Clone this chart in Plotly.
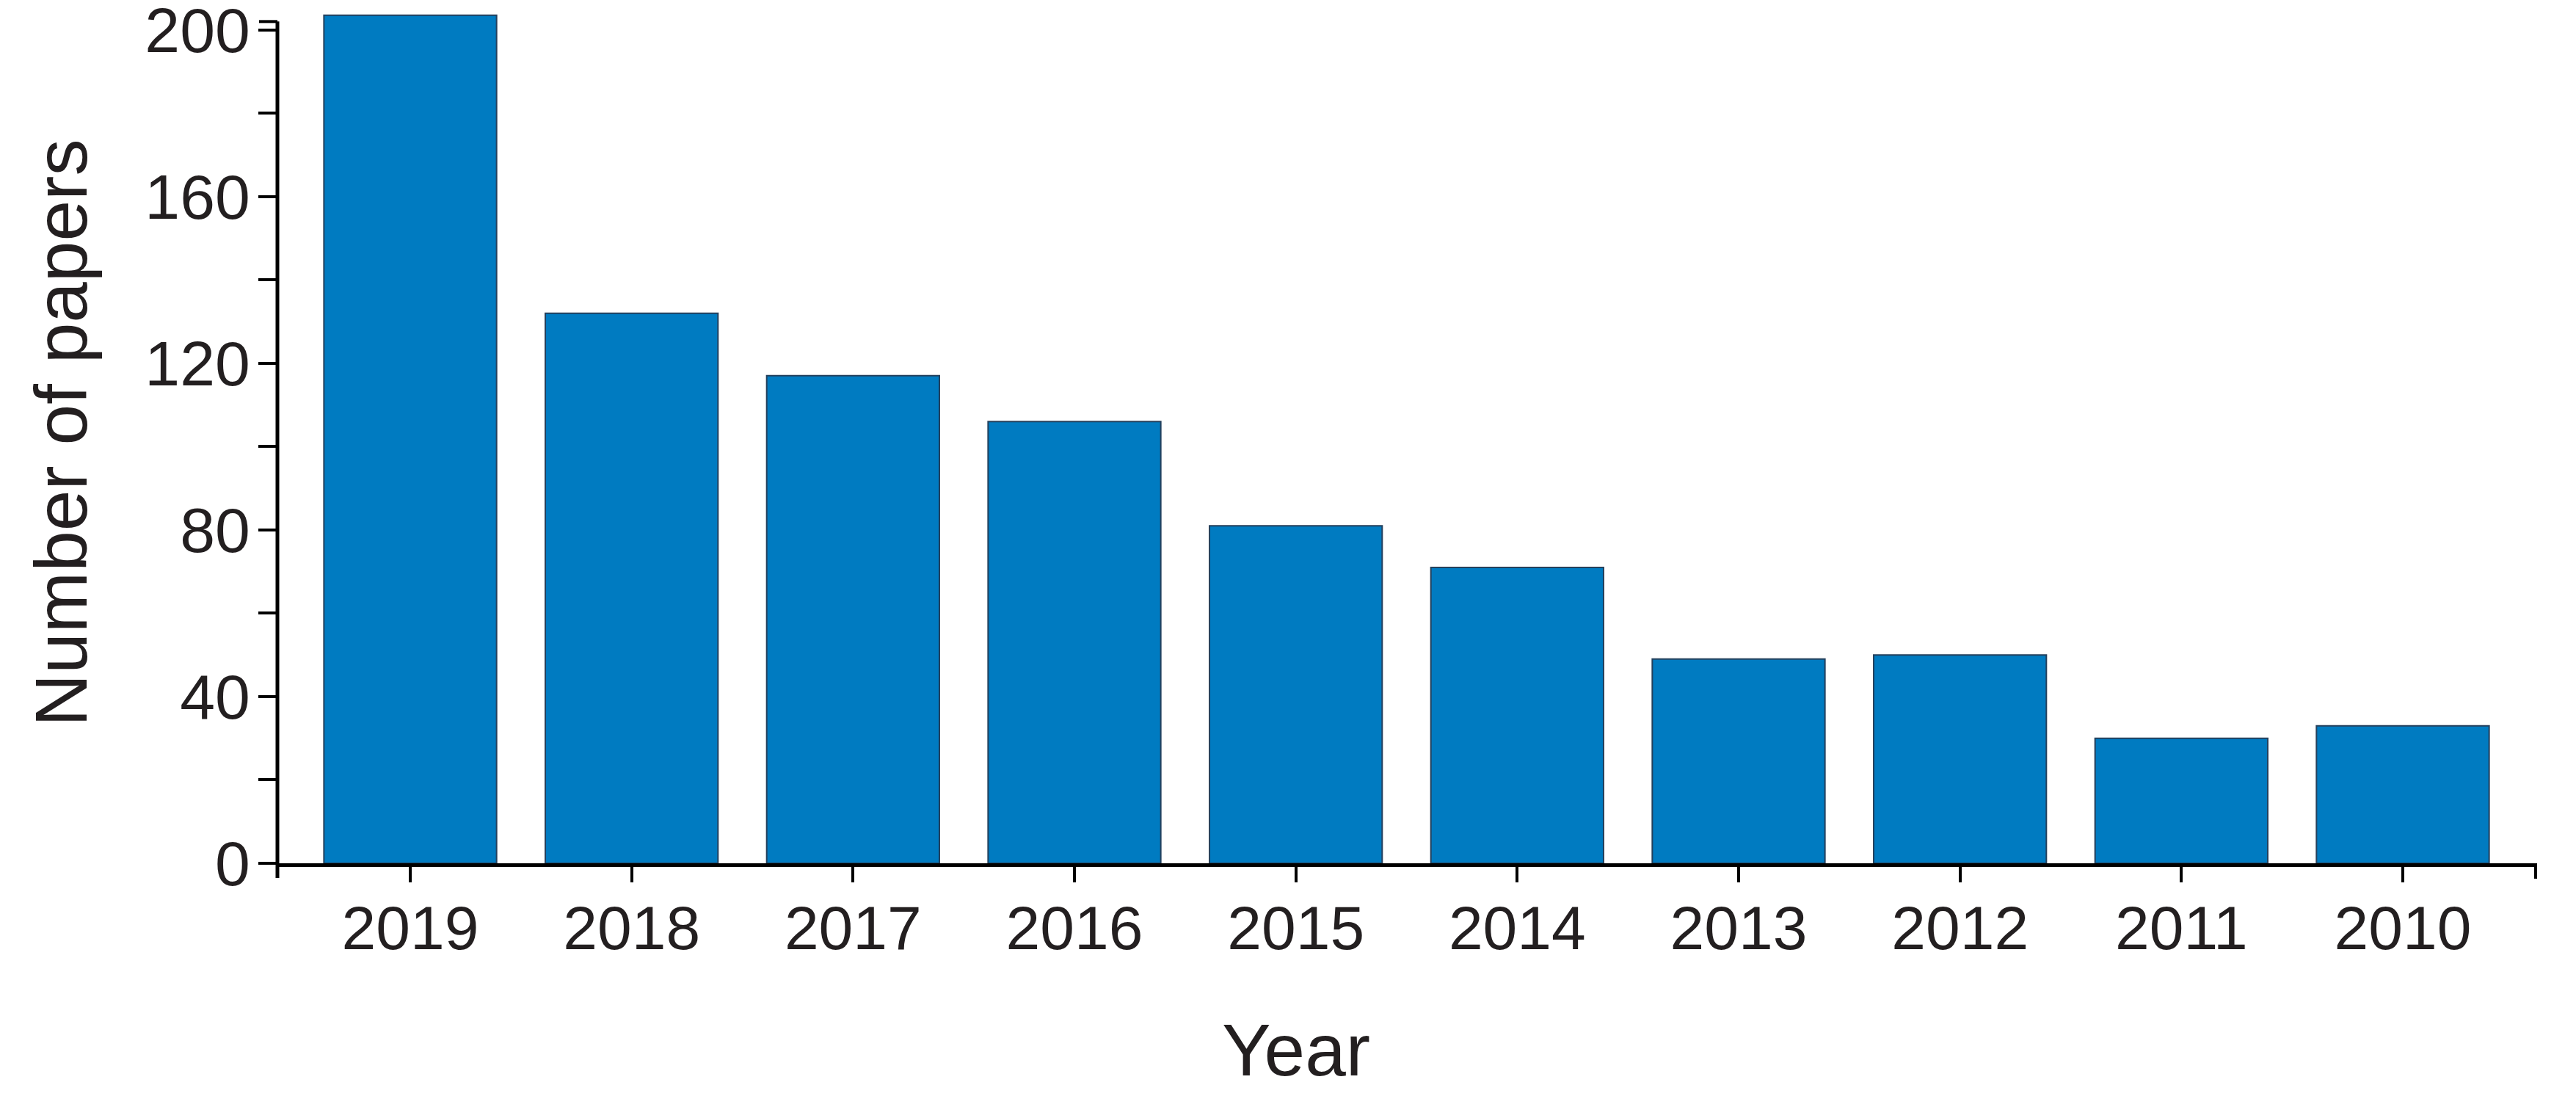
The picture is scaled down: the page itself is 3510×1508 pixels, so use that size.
import plotly.graph_objects as go

# ---- data ----
years = ["2019", "2018", "2017", "2016", "2015", "2014", "2013", "2012", "2011", "2010"]
papers = [203.5, 132, 117, 106, 81, 71, 49, 50, 30, 33]
y_tick_vals = [0, 40, 80, 120, 160, 200]
y_tick_text = ["0", "40", "80", "120", "160", "200"]
x_title = "Year"
y_title = "Number of papers"

# ---- layout constants (page pixels of the reference) ----
PAGE_W, PAGE_H = 3510, 1508
BODY = 8                      # default HTML body margin
W, H = PAGE_W - 2 * BODY, PAGE_H - 2 * BODY
X_LEFT, X_RIGHT = 378, 3455   # plot area on page
Y_TOP, Y_BOTTOM = 18, 1176
ML = X_LEFT - BODY
MT = Y_TOP - BODY
MR = (PAGE_W - BODY) - X_RIGHT
MB = (PAGE_H - BODY) - Y_BOTTOM
Y_MAX = 204
Y_AXIS_END = 202
X_RANGE = [-0.6, 9.6]
PLOT_W = X_RIGHT - X_LEFT
PLOT_H = Y_BOTTOM - Y_TOP
FONT = "Liberation Sans, Arial, Helvetica, sans-serif"
TXT = "#231F20"

fig = go.Figure(
    go.Bar(
        x=years,
        y=papers,
        width=0.78,
        marker=dict(color="#007BC1", line=dict(color="#24405c", width=2)),
    )
)

px_x = 1.0 / PLOT_W
px_y = 1.0 / PLOT_H

shapes = [
    # y axis line, extending slightly below the x axis
    dict(type="line", xref="paper", yref="paper", x0=0, x1=0,
         y0=-20 * px_y, y1=Y_AXIS_END / Y_MAX, line=dict(color="black", width=5)),
    # end cap at top of y axis
    dict(type="line", xref="paper", yref="paper", x0=-25 * px_x, x1=0,
         y0=Y_AXIS_END / Y_MAX, y1=Y_AXIS_END / Y_MAX, line=dict(color="black", width=4)),
    # end tick at right of x axis
    dict(type="line", xref="paper", yref="paper", x0=1, x1=1,
         y0=0, y1=-21 * px_y, line=dict(color="black", width=4)),
]

annotations = [
    dict(text=x_title, xref="paper", yref="paper",
         x=(1766 - X_LEFT) / PLOT_W, y=-(1430 - Y_BOTTOM) / PLOT_H,
         xanchor="center", yanchor="middle", showarrow=False,
         font=dict(family=FONT, size=100, color=TXT)),
    dict(text=y_title, xref="paper", yref="paper",
         x=(83 - X_LEFT) / PLOT_W, y=(Y_BOTTOM - 590) / PLOT_H,
         xanchor="center", yanchor="middle", textangle=-90, showarrow=False,
         font=dict(family=FONT, size=100, color=TXT)),
]

fig.update_layout(
    template="none",
    width=W, height=H,
    margin=dict(l=ML, r=MR, t=MT, b=MB, pad=0, autoexpand=False),
    paper_bgcolor="white", plot_bgcolor="white",
    showlegend=False,
    shapes=shapes,
    annotations=annotations,
    font=dict(family=FONT, color=TXT),
    xaxis=dict(
        type="category", range=X_RANGE, automargin=False,
        showline=True, linecolor="black", linewidth=5,
        ticks="outside", ticklen=21, tickwidth=4, tickcolor="black",
        tickfont=dict(family=FONT, size=84, color=TXT),
        ticklabelstandoff=-10,
        showgrid=False, zeroline=False,
    ),
    yaxis=dict(
        range=[0, Y_MAX], automargin=False,
        showline=False,
        tickmode="array", tickvals=y_tick_vals, ticktext=y_tick_text,
        ticks="outside", ticklen=25, tickwidth=4, tickcolor="black",
        tickfont=dict(family=FONT, size=86, color=TXT),
        ticklabelstandoff=-6, ticklabeloverflow="allow",
        minor=dict(dtick=20, tick0=0, ticks="outside", ticklen=25, tickwidth=4, tickcolor="black"),
        showgrid=False, zeroline=False,
    ),
)

fig.write_html("out.html")
